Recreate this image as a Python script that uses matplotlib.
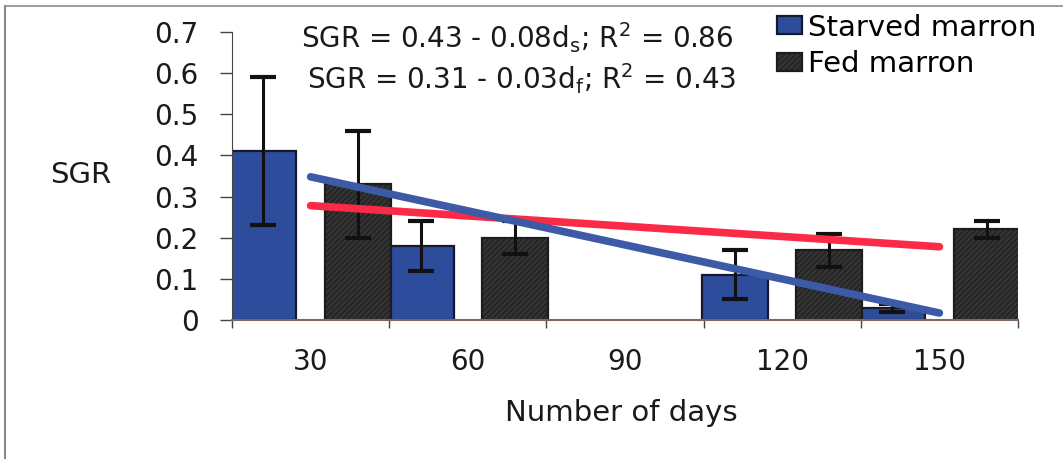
import matplotlib
matplotlib.use("Agg")
import matplotlib.pyplot as plt
import numpy as np
from matplotlib.lines import Line2D

plt.rcParams["font.family"] = ["DejaVu Sans"]
plt.rcParams["hatch.linewidth"] = 0.7

# values (no data at day 90)
days = ["30", "60", "90", "120", "150"]
starved_sgr = [0.41, 0.18, np.nan, 0.11, 0.03]
starved_se = [0.18, 0.06, np.nan, 0.06, 0.01]
fed_sgr = [0.33, 0.20, np.nan, 0.17, 0.22]
fed_se = [0.13, 0.04, np.nan, 0.04, 0.02]

# linear trend lines, first and last category
trend_pos = [0, 4]
starved_trend = [0.348, 0.017]
fed_trend = [0.278, 0.178]

eq_starved = r"SGR = 0.43 - 0.08d$_\mathregular{s}$; R$^\mathregular{2}$ = 0.86"
eq_fed = r"SGR = 0.31 - 0.03d$_\mathregular{f}$; R$^\mathregular{2}$ = 0.43"

W, H = 1063, 459
fig = plt.figure(figsize=(W / 100, H / 100), dpi=100)
ax = fig.add_axes([232 / W, 139 / H, 786 / W, 288 / H])

x = np.arange(len(days))
off = 0.30
width = 0.42

b1 = ax.bar(x - off, starved_sgr, width, color="#2d4c9c", edgecolor="#151a2a",
            linewidth=1.6, label="Starved marron", zorder=2)
b2 = ax.bar(x + off, fed_sgr, width, color="#333333", edgecolor="#1c1c1c",
            hatch="//////", linewidth=1.6, label="Fed marron", zorder=2)
for pos, vals, err in [(x - off, starved_sgr, starved_se), (x + off, fed_sgr, fed_se)]:
    ax.errorbar(pos, vals, yerr=err, fmt="none", ecolor="#111111",
                elinewidth=2.2, capsize=9.5, capthick=3, zorder=3)

ax.plot(trend_pos, fed_trend, color="#fb2a47", lw=5.5, solid_capstyle="round", zorder=4)
ax.plot(trend_pos, starved_trend, color="#3d5aa6", lw=5.5, solid_capstyle="round", zorder=5)

ax.set_xlim(-0.5, 4.5)
ax.set_ylim(0, 0.7)
ax.set_yticks(np.arange(0, 0.71, 0.1))
ax.yaxis.set_major_formatter(lambda v, p: f"{v:g}")
ax.set_xticks(x, days)
ax.set_xticks(np.arange(-0.5, 5, 1), minor=True)

ax.tick_params(axis="y", direction="out", length=8.5, width=1, pad=15.5,
               labelsize=20, color="#444444", labelcolor="#1a1a1a")
ax.tick_params(axis="x", which="major", length=0, pad=20, labelsize=20,
               labelcolor="#1a1a1a")
ax.tick_params(axis="x", which="minor", direction="out", length=6, width=1,
               color="#444444")

for s in ["top", "right"]:
    ax.spines[s].set_visible(False)
ax.spines["left"].set_color("#444444")
ax.spines["bottom"].set_color("#7b6a60")
ax.spines["bottom"].set_linewidth(1.5)

ax.set_ylabel("SGR", rotation=0, fontsize=21, ha="center", va="center", color="#1a1a1a")
ax.yaxis.set_label_coords((81 - 232) / 786, (320 - 175) / 288)
ax.set_xlabel("Number of days", fontsize=21, color="#1a1a1a")
ax.xaxis.set_label_coords((621 - 232) / 786, (320 - 399) / 288)

fig.text(517 / W, 1 - 48 / H, eq_starved, ha="center", va="baseline",
         fontsize=20, color="#1a1a1a")
fig.text(522 / W, 1 - 89 / H, eq_fed, ha="center", va="baseline",
         fontsize=20, color="#1a1a1a")

ax.legend(handles=[b1, b2], loc="upper left",
          bbox_to_anchor=(777 / W, 1 - 13.5 / H), bbox_transform=fig.transFigure,
          frameon=False, fontsize=21, handlelength=0.86, handleheight=0.58,
          handletextpad=0.2, labelspacing=0.3, borderpad=0, borderaxespad=0)

# scanned page border (left and top)
fig.add_artist(Line2D([5 / W, 5 / W], [0, 1 - 6 / H], transform=fig.transFigure,
                      color="#888888", lw=1.5))
fig.add_artist(Line2D([5 / W, 1], [1 - 6 / H, 1 - 6 / H], transform=fig.transFigure,
                      color="#9a8a80", lw=1.2))

fig.savefig("out.png", dpi=100)
